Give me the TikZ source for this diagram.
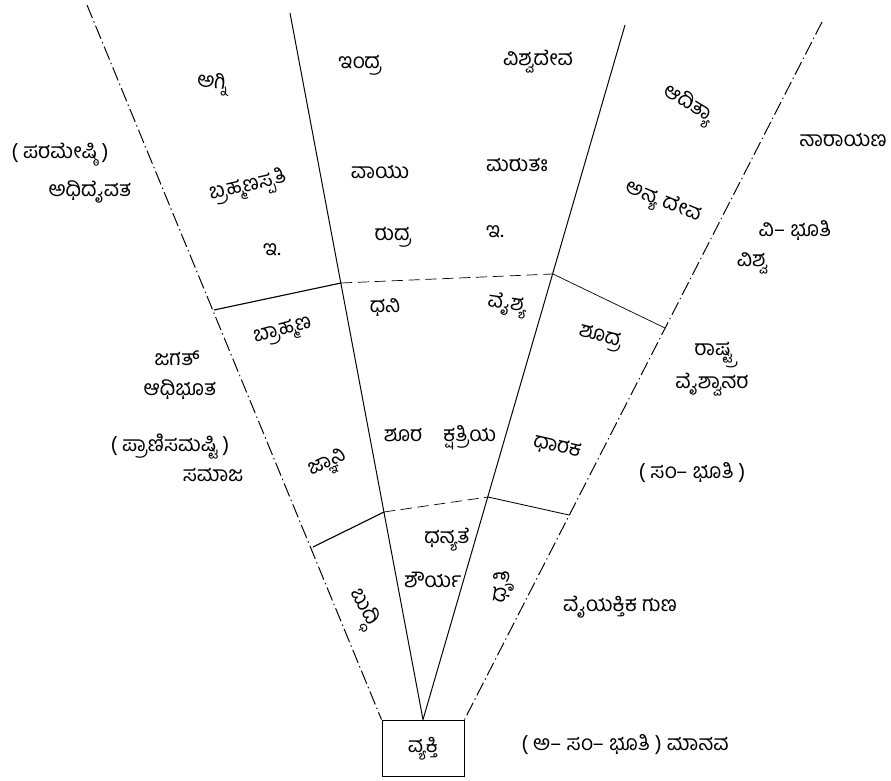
\documentclass[tikz,border=0pt]{standalone}
\usepackage{fontspec}
\newfontfamily\kannada[Script=Kannada]{Hind Mysuru}
\tikzset{
  word/.style={font=\kannada\fontsize{15}{17}\selectfont, inner sep=0pt},
  fanline/.style={line width=0.7pt},
  outerline/.style={line width=0.7pt, dash pattern=on 10pt off 2.5pt on 1pt off 2.5pt},
  bandline/.style={line width=0.8pt},
  banddash/.style={line width=0.5pt, dash pattern=on 8pt off 4pt},
}
\begin{document}
\begin{tikzpicture}[x=0.025cm, y=-0.025cm]
\useasboundingbox (0,0) rectangle (891,780);

\node[draw, line width=0.7pt, minimum width=2.05cm, minimum height=1.42cm, word] (vyakti) at (423,748.5) {ವ್ಯಕ್ತಿ};

\coordinate (l1) at (87,5);
\coordinate (l2) at (290,13);
\coordinate (l3) at (625,25);
\coordinate (l4) at (822,22);

\coordinate (u1) at (214,310);
\coordinate (u2) at (341,283);
\coordinate (u3) at (553,274);
\coordinate (u4) at (665,328);

\coordinate (w1) at (313,547);
\coordinate (w2) at (384,512);
\coordinate (w3) at (488,497);
\coordinate (w4) at (569,515);

\draw[outerline] (l1) -- (vyakti.north west);
\draw[fanline] (l2) -- (vyakti.north);
\draw[fanline] (l3) -- (vyakti.north);
\draw[outerline] (l4) -- (vyakti.north east);

\draw[bandline] (u1) -- (u2);
\draw[banddash] (u2) -- (u3);
\draw[bandline, line width=0.5pt] (u3) -- (u4);

\draw[bandline] (w1) -- (w2);
\draw[banddash] (w2) -- (w3);
\draw[bandline, line width=0.6pt] (w3) -- (w4);

\node[word, rotate=-5] (agni) at (212,84) {ಅಗ್ನಿ};
\node[word] (indra) at (360,65) {ಇಂದ್ರ};
\node[word] (vishvadeva) at (538,62) {ವಿಶ್ವದೇವ};
\node[word, rotate=-31] (aditya) at (688,105) {ಆದಿತ್ಯಾ};
\node[word] (narayana) at (843,140) {ನಾರಾಯಣ};

\node[word] (paramesthi) at (60,155) {( ಪರಮೇಷ್ಠಿ )};
\node[word] (adhidaivata) at (90,192) {ಅಧಿದೈವತ};
\node[word, rotate=13] (brahmanaspati) at (248,187) {ಬ್ರಹ್ಮಣಸ್ಪತಿ};
\node[word] (vayu) at (380,172) {ವಾಯು};
\node[word] (marutah) at (517,165) {ಮರುತಃ};
\node[word, rotate=-22] (anyadeva) at (663,203) {ಅನ್ಯ ದೇವ};

\node[word] (ileft) at (272,250) {ಇ.};
\node[word] (rudra) at (393,237) {ರುದ್ರ};
\node[word] (iright) at (495,232) {ಇ.};
\node[word] (vibhuti) at (795,230) {ವಿ– ಭೂತಿ};
\node[word] (vishva) at (752,263) {ವಿಶ್ವ};

\node[word, rotate=15] (brahmana) at (283,332) {ಬ್ರಾಹ್ಮಣ};
\node[word] (dhani) at (385,307) {ಧನಿ};
\node[word, rotate=-8] (vaishya) at (507,305) {ವೈಶ್ಯ};
\node[word, rotate=-15] (shudra) at (600,338) {ಶೂದ್ರ};

\node[word] (jagat) at (177,358) {ಜಗತ್};
\node[word] (adhibhuta) at (180,390) {ಆಧಿಭೂತ};
\node[word] (rashtra) at (715,355) {ರಾಷ್ಟ್ರ};
\node[word] (vaishvanara) at (712,385) {ವೈಶ್ವಾನರ};

\node[word] (pranisamashti) at (170,447) {( ಪ್ರಾಣಿಸಮಷ್ಟಿ )};
\node[word] (samaja) at (213,475) {ಸಮಾಜ};
\node[word, rotate=25] (jnani) at (328,465) {ಜ್ಞಾನಿ};
\node[word] (kshatriya) at (440,438) {ಶೂರ\quad ಕ್ಷತ್ರಿಯ};
\node[word, rotate=-13] (dharaka) at (557,447) {ಧಾರಕ};
\node[word] (sambhuti) at (692,473) {( ಸಂ– ಭೂತಿ )};

\node[word] (dhanyate) at (447,540) {ಧನ್ಯತೆ};
\node[word] (shaurya) at (433,580) {ಶೌರ್ಯ};
\node[word, rotate=-62] (buddhi) at (362,608) {ಬುದ್ಧಿ};
\node[word, rotate=80] (dhriti) at (503,587) {ಧೃತಿ};
\node[word] (guna) at (620,607) {ವೈಯಕ್ತಿಕ ಗುಣ};
\node[word] (manava) at (625,745) {( ಅ– ಸಂ– ಭೂತಿ ) ಮಾನವ};
\end{tikzpicture}
\end{document}
